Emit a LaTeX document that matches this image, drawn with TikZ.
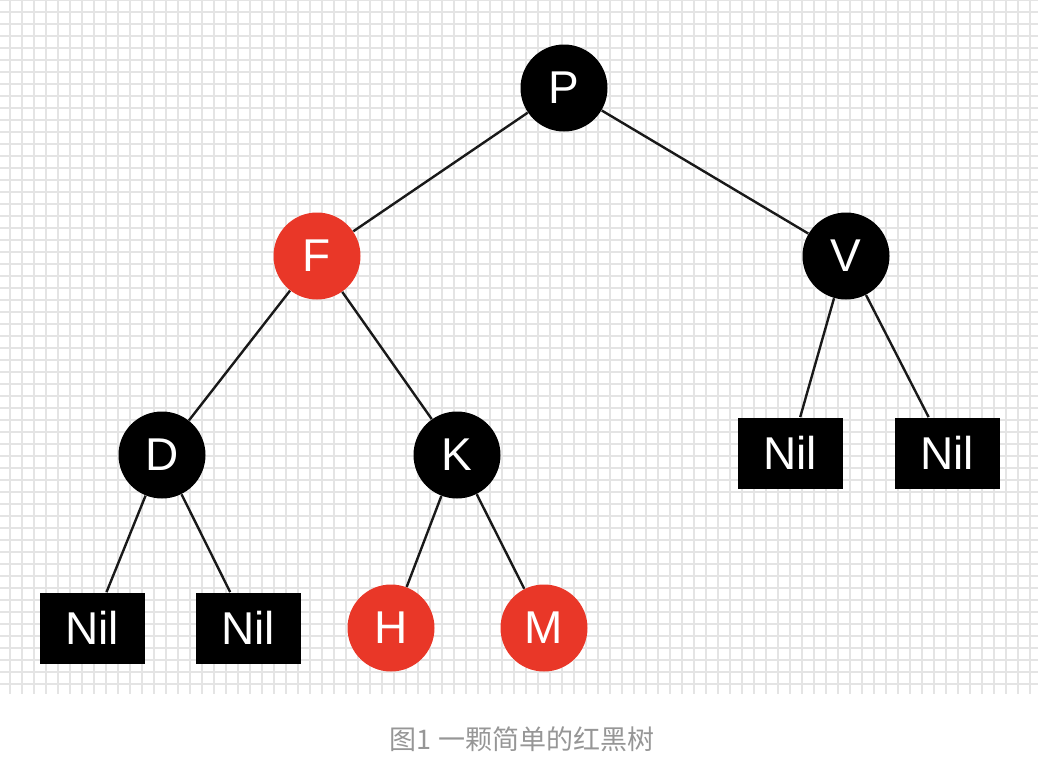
\documentclass[tikz,border=0pt]{standalone}
\usepackage{fontspec}
\setmainfont{Liberation Sans}
\newfontfamily\cjk{Noto Sans CJK SC}
\definecolor{rbred}{RGB}{233,55,40}
\definecolor{gridgray}{RGB}{228,228,228}
\definecolor{capgray}{RGB}{150,150,150}

\begin{document}
\begin{tikzpicture}[x=0.5pt,y=-0.5pt,
		gridline/.style={gridgray,line width=0.6pt},
		blacknode/.style={circle,fill=black,text=white,minimum size=43.5pt,inner sep=0pt,font=\fontsize{23}{23}\selectfont},
		rednode/.style={blacknode,fill=rbred},
		nilnode/.style={rectangle,fill=black,text=white,minimum width=52.5pt,minimum height=35.5pt,inner sep=0pt,font=\fontsize{23}{23}\selectfont},
		treeedge/.style={line width=1.2pt,draw=black!90}]
		\useasboundingbox (0,0) rectangle (1038,776);
		\foreach \gx in {10,22,...,1030} \draw[gridline] (\gx,0) -- (\gx,694);
		\foreach \gy in {0,12,...,690} \draw[gridline] (0,\gy) -- (1038,\gy);
		\node[blacknode] (P) at (564,88) {P};
		\node[rednode] (F) at (317,256) {F};
		\node[blacknode] (V) at (846,256) {V};
		\node[blacknode] (D) at (162,455) {D};
		\node[blacknode] (K) at (457,455) {K};
		\node[nilnode] (nilV1) at (790,453) {Nil};
		\node[nilnode] (nilV2) at (947,453) {Nil};
		\node[nilnode] (nilD1) at (92,628) {Nil};
		\node[nilnode] (nilD2) at (248,628) {Nil};
		\node[rednode] (H) at (391,628) {H};
		\node[rednode] (M) at (544,628) {M};
		\draw[treeedge] (P) -- (F);
		\draw[treeedge] (P) -- (V);
		\draw[treeedge] (F) -- (D);
		\draw[treeedge] (F) -- (K);
		\draw[treeedge] (V) -- (nilV1);
		\draw[treeedge] (V) -- (nilV2);
		\draw[treeedge] (D) -- (nilD1);
		\draw[treeedge] (D) -- (nilD2);
		\draw[treeedge] (K) -- (H);
		\draw[treeedge] (K) -- (M);
		\node[text=capgray,font=\cjk\fontsize{13.5}{13.5}\selectfont] (caption) at (522,739) {图1 一颗简单的红黑树};
	\end{tikzpicture}
\end{document}
